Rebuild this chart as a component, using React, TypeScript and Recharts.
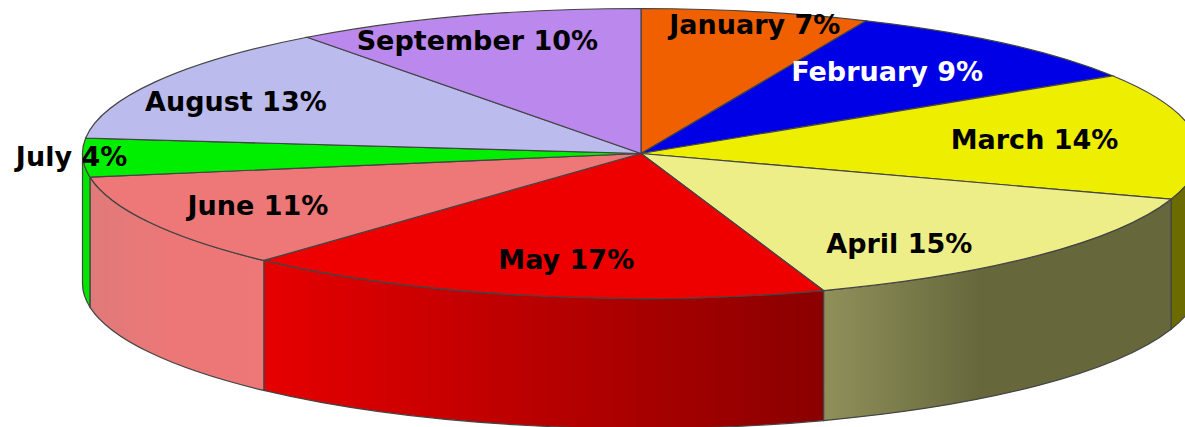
import React from 'react';
import { PieChart, Pie, Cell } from 'recharts';

const months = ['January', 'February', 'March', 'April', 'May', 'June', 'July', 'August', 'September'];
// share of each slice as measured on the picture; the printed label is the rounded one
const values = [6.6, 9.4, 14.1, 14.6, 17.1, 10.6, 4.3, 13.1, 10.2];
const printedPct = [7, 9, 14, 15, 17, 11, 4, 13, 10];

const topColors = ['#f06000', '#0000e6', '#eeee00', '#eeee88', '#ee0000', '#ee7777', '#00ee00', '#bbbbee', '#bb88ee'];
const wallFrom = ['#f06000', '#0000e6', '#6b6b00', '#90905a', '#e60000', '#e07a7a', '#00e600', '#bbbbee', '#bb88ee'];
const wallMid = ['#f06000', '#0000e6', '#6b6b00', '#66683c', '#bc0000', '#ec7777', '#00e600', '#bbbbee', '#bb88ee'];
const wallTo = ['#f06000', '#0000e6', '#6b6b00', '#66683c', '#8a0000', '#ee7777', '#00e600', '#bbbbee', '#bb88ee'];
const labelColors = ['#000', '#fff', '#000', '#000', '#000', '#000', '#000', '#000', '#000'];
// how far out each label sits, as a fraction of the radius (x, y)
const labelFx = [0.99, 0.676, 0.71, 0.65, 0.66, 0.78, 1.02, 0.835, 0.93];
const labelFy = [0.91, 0.75, 0.8, 0.88, 0.75, 0.755, 0.8, 0.73, 0.82];

const WIDTH = 1185;
const HEIGHT = 427;
const RADIUS = 558.5;
const SQUASH = 145 / 558.5; // tilt of the disc
const DEPTH = 130;
const RAD = Math.PI / 180;

const rows = months.map((month, i) => ({ month, value: values[i] }));

const pt = (cx: number, cy: number, r: number, deg: number) => ({
  x: cx + r * Math.cos(deg * RAD),
  y: cy - r * SQUASH * Math.sin(deg * RAD),
});

function TiltedSlice(props: any) {
  const { cx, cy, outerRadius: r, startAngle, endAngle, fill, index } = props;
  const a = pt(cx, cy, r, startAngle);
  const b = pt(cx, cy, r, endAngle);
  const ry = r * SQUASH;
  const large = Math.abs(startAngle - endAngle) > 180 ? 1 : 0;
  const top = `M${cx},${cy}L${a.x},${a.y}A${r},${ry} 0 ${large} 1 ${b.x},${b.y}Z`;

  // only the front half of the disc shows a wall
  const s = Math.min(startAngle, 0);
  const e = Math.max(endAngle, -180);
  let wall: React.ReactNode = null;
  if (s > e) {
    const p = pt(cx, cy, r, s);
    const q = pt(cx, cy, r, e);
    const id = `wall-${index}`;
    wall = (
      <g>
        <defs>
          <linearGradient id={id} gradientUnits="userSpaceOnUse" x1={Math.min(p.x, q.x)} x2={Math.max(p.x, q.x)} y1={0} y2={0}>
            <stop offset="0" stopColor={wallFrom[index]} />
            <stop offset="0.45" stopColor={wallMid[index]} />
            <stop offset="1" stopColor={wallTo[index]} />
          </linearGradient>
        </defs>
        <path
          d={`M${p.x},${p.y}A${r},${ry} 0 0 1 ${q.x},${q.y}L${q.x},${q.y + DEPTH}A${r},${ry} 0 0 0 ${p.x},${p.y + DEPTH}Z`}
          fill={`url(#${id})`}
          stroke="#444"
          strokeWidth={1.2}
        />
      </g>
    );
  }
  return (
    <g>
      {wall}
      <path d={top} fill={fill} stroke="#444" strokeWidth={1.2} />
    </g>
  );
}

function SliceLabel(props: any) {
  const { cx, cy, outerRadius: r, midAngle, index } = props;
  const x = cx + labelFx[index] * r * Math.cos(midAngle * RAD);
  const y = cy - labelFy[index] * r * SQUASH * Math.sin(midAngle * RAD);
  return (
    <text
      x={x}
      y={y}
      fill={labelColors[index]}
      textAnchor="middle"
      dominantBaseline="central"
      fontFamily="'DejaVu Sans', sans-serif"
      fontWeight={700}
      fontSize={27}
    >
      {`${months[index]} ${printedPct[index]}%`}
    </text>
  );
}

export default function App() {
  return (
    <div style={{ position: 'absolute', left: 0, top: 0, width: WIDTH, height: HEIGHT, overflow: 'hidden' }}>
      <PieChart width={WIDTH} height={HEIGHT} margin={{ top: 0, right: 0, bottom: 0, left: 0 }}>
        <Pie
          data={rows}
          dataKey="value"
          nameKey="month"
          cx={641}
          cy={153.5}
          innerRadius={0}
          outerRadius={RADIUS}
          startAngle={90}
          endAngle={-270}
          paddingAngle={0}
          stroke="none"
          labelLine={false}
          label={SliceLabel}
          shape={TiltedSlice}
          isAnimationActive={false}
        >
          {rows.map((r, i) => (
            <Cell key={r.month} fill={topColors[i]} />
          ))}
        </Pie>
      </PieChart>
    </div>
  );
}
